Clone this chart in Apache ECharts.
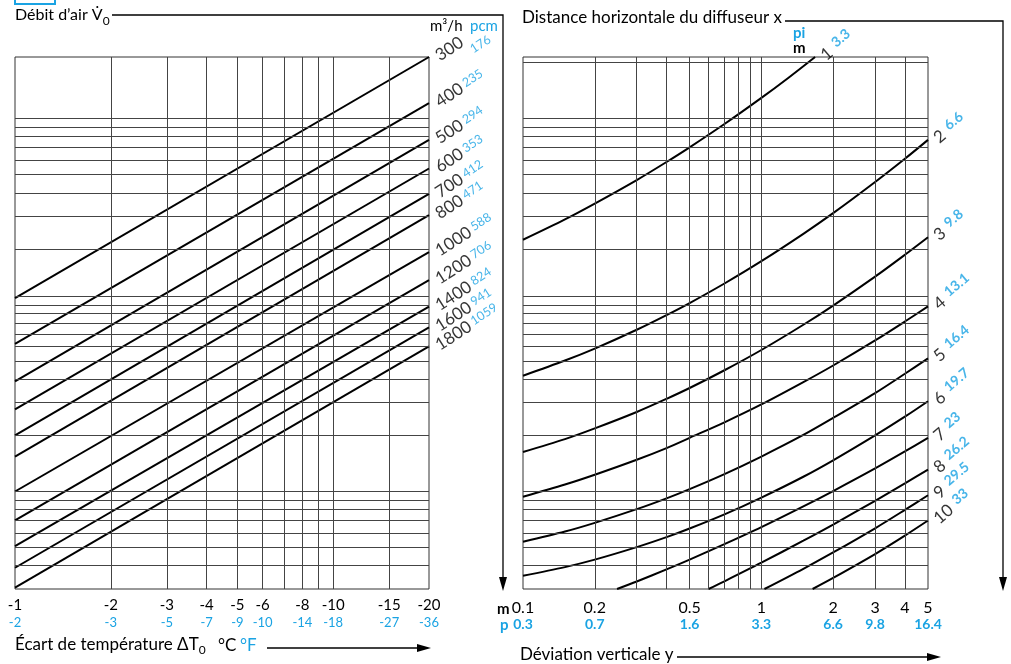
<!DOCTYPE html>
<html><head><meta charset="utf-8">
<script src="https://cdn.jsdelivr.net/npm/echarts@6/dist/echarts.min.js"></script>
<style>html,body{margin:0;padding:0;background:#fff}#c{width:1011px;height:664px}</style>
</head><body><div id="c"></div>
<script>
// ---------- data ----------
const tempTicksC = [1, 2, 3, 4, 5, 6, 8, 10, 15, 20];
const tempLabelsC = ['-1', '-2', '-3', '-4', '-5', '-6', '-8', '-10', '-15', '-20'];
const tempLabelsF = ['-2', '-3', '-5', '-7', '-9', '-10', '-14', '-18', '-27', '-36'];
const tempGrid = [2, 3, 4, 5, 6, 7, 8, 9, 10, 15];
const flowM3h = ['300', '400', '500', '600', '700', '800', '1000', '1200', '1400', '1600', '1800'];
const flowPcm = ['176', '235', '294', '353', '412', '471', '588', '706', '824', '941', '1059'];
const levelAtDT1 = [109, 62, 39, 27.6, 20, 15.4, 10, 7, 5.1, 3.9, 3.05];
const levelAtDT20 = [2140, 1210, 770, 540, 395, 304, 192, 136, 98, 76, 60];
const levelGrid = [4, 5, 6, 7, 8, 9, 10, 20, 30, 40, 50, 60, 70, 80, 90, 100, 111, 200, 300, 400, 500, 600, 700, 800, 900, 1000];
const levelGridRightExtra = [2000];
const devTicks = [0.1, 0.2, 0.5, 1, 2, 3, 4, 5];
const devLabelsM = ['0.1', '0.2', '0.5', '1', '2', '3', '4', '5'];
const devLabelsFt = ['0.3', '0.7', '1.6', '3.3', '6.6', '9.8', '13.1', '16.4'];
const devGrid = [0.2, 0.3, 0.4, 0.5, 0.6, 0.7, 0.8, 0.9, 1, 2, 3, 4];
const distM = ['1', '2', '3', '4', '5', '6', '7', '8', '9', '10'];
const distFt = ['3.3', '6.6', '9.8', '13.1', '16.4', '19.7', '23', '26.2', '29.5', '33'];
const curve1 = [[0.1, 224], [0.15, 288], [0.2, 350], [0.3, 468], [0.4, 585], [0.5, 701], [0.7, 935], [1, 1291], [1.3, 1657], [1.68, 2140]];
const curve2 = [[0.1, 41.8], [0.15, 50.4], [0.2, 58.4], [0.3, 73.7], [0.4, 88.3], [0.5, 102.5], [0.7, 130.5], [1, 171.9], [1.5, 241], [2, 311], [3, 457], [4, 609], [5, 769]];
const curve3 = [[0.1, 16.3], [0.15, 19.1], [0.2, 21.8], [0.3, 26.7], [0.4, 31.4], [0.5, 35.9], [0.7, 44.7], [1, 57.4], [1.5, 78.4], [2, 99.4], [3, 142], [4, 186], [5, 231]];
const curve4 = [[0.1, 9.38], [0.15, 10.9], [0.2, 12.3], [0.3, 14.8], [0.4, 17.1], [0.5, 19.4], [0.7, 23.5], [1, 29.3], [1.5, 38.6], [2, 47.4], [3, 64.6], [4, 81.6], [5, 98.4]];
const curve5 = [[0.1, 5.38], [0.15, 6.10], [0.2, 6.79], [0.3, 8.04], [0.4, 9.19], [0.5, 10.3], [0.7, 12.4], [1, 15.4], [1.5, 20.1], [2, 24.8], [3, 33.7], [4, 42.8], [5, 51.8]];
const curve6 = [[0.1, 3.53], [0.15, 3.93], [0.2, 4.31], [0.3, 5.03], [0.4, 5.69], [0.5, 6.33], [0.7, 7.54], [1, 9.28], [1.5, 12.0], [2, 14.7], [3, 20.0], [4, 25.2], [5, 30.5]];
const curve7 = [[0.248, 3], [0.3, 3.29], [0.4, 3.82], [0.5, 4.31], [0.7, 5.22], [1, 6.44], [1.5, 8.32], [2, 10.06], [3, 13.3], [4, 16.4], [5, 19.4]];
const curve8 = [[0.6, 3], [0.7, 3.30], [1, 4.15], [1.5, 5.45], [2, 6.65], [3, 8.92], [4, 11.05], [5, 13.1]];
const curve9 = [[1.03, 3], [1.5, 3.85], [2, 4.71], [3, 6.35], [4, 7.97], [5, 9.55]];
const curve10 = [[1.64, 3], [2, 3.44], [3, 4.62], [4, 5.80], [5, 6.99]];
const curves = [curve1, curve2, curve3, curve4, curve5, curve6, curve7, curve8, curve9, curve10];

// ---------- style ----------
const BLUE = '#1aa3e3';
const GRID = '#444';
const FONT = 'Lato';
const Y_MIN = 3, Y_MAX = 2140;

function pick(ticks, labels) {
  return v => {
    const i = ticks.findIndex(t => Math.abs(t - v) < 1e-6 * t);
    return i < 0 ? '' : labels[i];
  };
}
function logX(gridIndex, min, max, ticks, labels, color, size, weight, margin, offset) {
  return {
    gridIndex, type: 'log', logBase: 10, min, max, position: 'bottom', offset,
    axisLine: { show: false }, axisTick: { show: false }, splitLine: { show: false }, minorSplitLine: { show: false },
    axisLabel: {
      customValues: ticks, formatter: pick(ticks, labels), color, fontSize: size, fontWeight: weight,
      fontFamily: FONT, margin, showMinLabel: true, showMaxLabel: true, hideOverlap: false
    }
  };
}
const gridLineSeries = (xi, yi, xs, ys) => ({
  type: 'line', xAxisIndex: xi, yAxisIndex: yi, data: [], silent: true, symbol: 'none',
  markLine: {
    silent: true, symbol: ['none', 'none'], label: { show: false }, animation: false,
    lineStyle: { color: GRID, width: 1, type: 'solid' },
    emphasis: { disabled: true },
    data: [...xs.map(v => ({ xAxis: v })), ...ys.map(v => ({ yAxis: v }))]
  }
});

const series = [];
series.push(gridLineSeries(0, 0, tempGrid, levelGrid));
series.push(gridLineSeries(2, 1, devGrid, levelGrid.concat(levelGridRightExtra)));
flowM3h.forEach((f, i) => {
  series.push({
    type: 'line', xAxisIndex: 0, yAxisIndex: 0, symbol: 'none', silent: true,
    data: [[tempTicksC[0], levelAtDT1[i]], [tempTicksC[tempTicksC.length - 1], levelAtDT20[i]]],
    lineStyle: { color: '#000', width: 2 }
  });
});
series.push({
  type: 'scatter', xAxisIndex: 0, yAxisIndex: 0, symbolSize: 0, silent: true,
  data: flowM3h.map((f, i) => [tempTicksC[tempTicksC.length - 1], levelAtDT20[i]]),
  label: {
    show: true, position: 'right', distance: 8, rotate: 33,
    formatter: p => `{a|${flowM3h[p.dataIndex]}}{${p.dataIndex === 0 ? 'c' : 'b'}|${flowPcm[p.dataIndex]}}`,
    rich: {
      a: { fontFamily: FONT, fontSize: 17, color: '#000' },
      b: { fontFamily: FONT, fontSize: 12.5, color: BLUE, padding: [0, 0, 3, 3] },
      c: { fontFamily: FONT, fontSize: 12.5, color: BLUE, padding: [26, 0, 0, 3] }
    }
  }
});
curves.forEach(c => {
  series.push({
    type: 'line', xAxisIndex: 2, yAxisIndex: 1, symbol: 'none', silent: true, smooth: 0.3,
    data: c, lineStyle: { color: '#000', width: 2 }
  });
});
series.push({
  type: 'scatter', xAxisIndex: 2, yAxisIndex: 1, symbolSize: 0, silent: true,
  data: curves.map(c => c[c.length - 1]),
  label: {
    show: true, position: 'right', distance: 8, rotate: 40,
    formatter: p => `{a|${distM[p.dataIndex]}}{b|${distFt[p.dataIndex]}}`,
    rich: {
      a: { fontFamily: FONT, fontSize: 17, color: '#000' },
      b: { fontFamily: FONT, fontSize: 14, fontWeight: 'bold', color: BLUE, padding: [0, 0, 6, 6] }
    }
  }
});

function txt(x, y, text, size, color, weight, align) {
  return {
    type: 'text', x, y, silent: true,
    style: {
      text, font: `${weight || 'normal'} ${size}px ${FONT}`, fill: color || '#000',
      textAlign: align || 'left', align: align || 'left', textVerticalAlign: 'middle', verticalAlign: 'middle'
    }
  };
}
function richTxt(x, y, main, sub, size) {
  return {
    type: 'text', x, y, silent: true,
    style: {
      text: `{a|${main}}{s|${sub}}`, textVerticalAlign: 'middle', verticalAlign: 'middle',
      rich: {
        a: { fontFamily: FONT, fontSize: size, fill: '#000', lineHeight: 20, verticalAlign: 'top' },
        s: { fontFamily: FONT, fontSize: 12, fill: '#000', lineHeight: 12, padding: [8, 0, 0, 0], verticalAlign: 'top' }
      }
    }
  };
}
const line = pts => ({ type: 'polyline', silent: true, shape: { points: pts }, style: { stroke: '#000', lineWidth: 1.3, fill: null } });
const tri = pts => ({ type: 'polygon', silent: true, shape: { points: pts }, style: { fill: '#000' } });

const graphic = [
  { type: 'rect', silent: true, shape: { x: 15, y: -10, width: 40, height: 14 }, style: { stroke: BLUE, lineWidth: 2, fill: null } },
  richTxt(15, 17, 'Débit d\u2019air V\u0307', '0', 16),
  line([[112, 15], [503, 15], [503, 580]]), tri([[499, 577], [507, 577], [503, 591]]),
  txt(430, 26, 'm\u00b3/h', 15, '#000'), txt(470, 26, 'pcm', 15, BLUE),
  txt(522, 18, 'Distance horizontale du diffuseur x', 17, '#000'),
  line([[785, 21], [1003, 21], [1003, 580]]), tri([[999, 577], [1007, 577], [1003, 591]]),
  txt(793, 33, 'pi', 15, BLUE, 'bold'), txt(793, 48, 'm', 15, '#000', 'bold'),
  richTxt(15, 646, 'Écart de température \u0394T', '0', 17),
  txt(218, 646, '°C', 17, '#000'), txt(240, 646, '°F', 17, BLUE),
  line([[267, 648], [420, 648]]), tri([[417, 644], [417, 652], [431, 648]]),
  txt(520, 655, 'Déviation verticale y', 17, '#000'),
  line([[677, 657], [930, 657]]), tri([[927, 653], [927, 661], [941, 657]]),
  txt(497, 609, 'm', 15, '#000', 'bold'), txt(500, 625, 'p', 15, BLUE, 'bold')
];

const chart = echarts.init(document.getElementById('c'), null, { renderer: 'canvas' });
chart.setOption({
  animation: false,
  backgroundColor: '#fff',
  grid: [
    { left: 15, top: 57, width: 414, height: 532, show: true, borderColor: '#333', borderWidth: 1, outerBoundsMode: 'none', containLabel: false },
    { left: 523, top: 57, width: 405, height: 532, show: true, borderColor: '#333', borderWidth: 1, outerBoundsMode: 'none', containLabel: false }
  ],
  xAxis: [
    logX(0, 1, 20, tempTicksC, tempLabelsC, '#000', 15, 'normal', 9, 0),
    logX(0, 1, 20, tempTicksC, tempLabelsF, BLUE, 13, 'normal', 9, 18),
    logX(1, 0.1, 5, devTicks, devLabelsM, '#000', 16, 'normal', 11, 0),
    logX(1, 0.1, 5, devTicks, devLabelsFt, BLUE, 14, 'bold', 11, 17)
  ],
  yAxis: [
    { gridIndex: 0, type: 'log', logBase: 10, min: Y_MIN, max: Y_MAX, show: false },
    { gridIndex: 1, type: 'log', logBase: 10, min: Y_MIN, max: Y_MAX, show: false }
  ],
  series,
  graphic
});
</script></body></html>
